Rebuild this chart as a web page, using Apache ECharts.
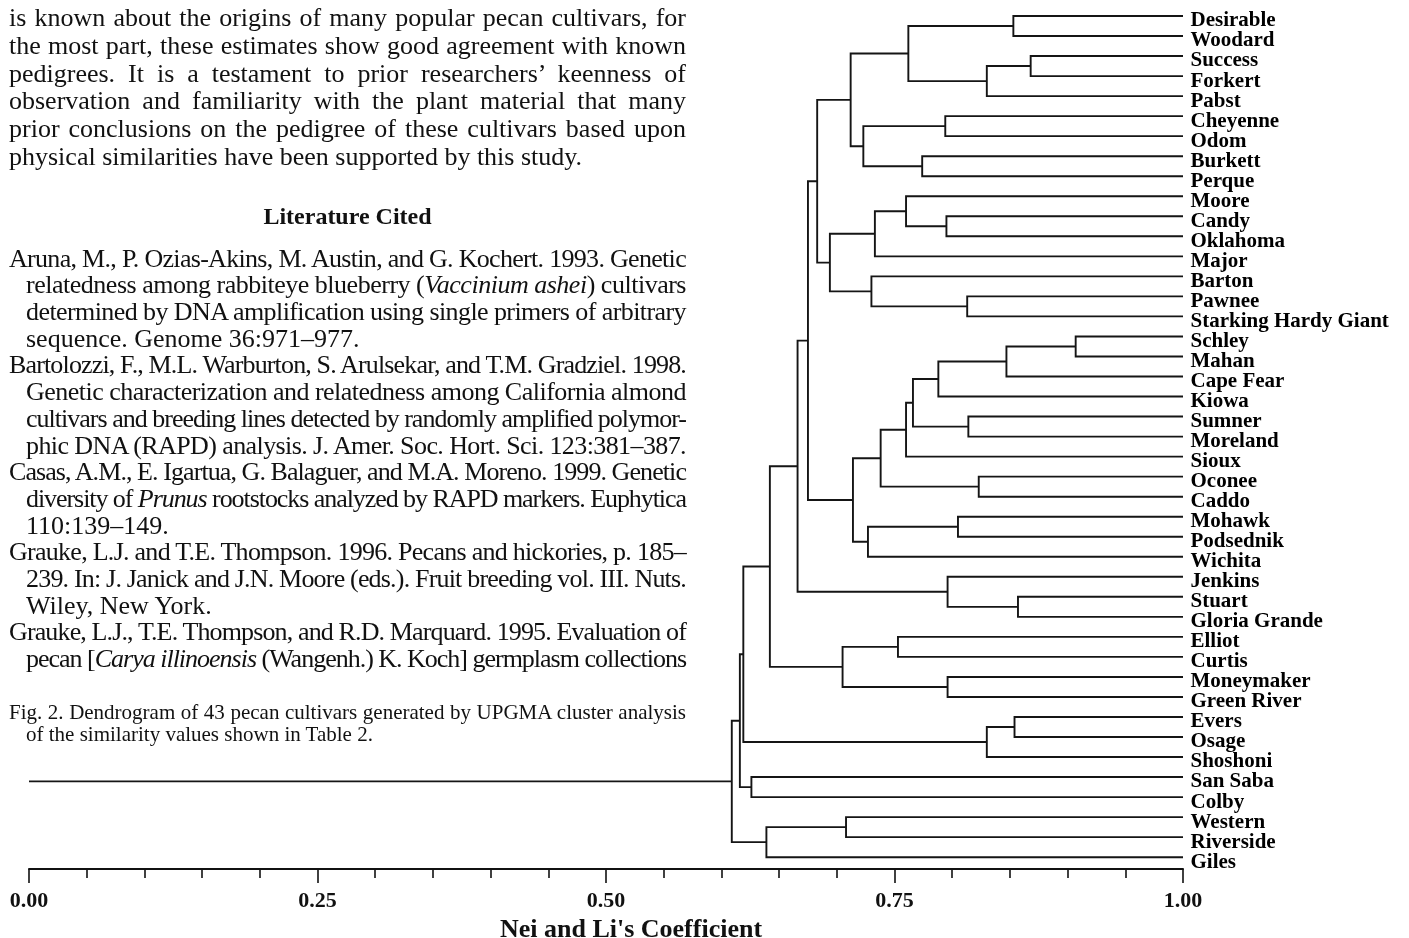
<!DOCTYPE html>
<html>
<head>
<meta charset="utf-8">
<script src="https://cdn.jsdelivr.net/npm/echarts@6/dist/echarts.min.js"></script>
<style>
  html, body { margin: 0; padding: 0; background: #fff; }
  #chart { position: absolute; left: 0; top: 0; width: 1409px; height: 938px; }
  #page { position: absolute; left: 0; top: 0; font-family: 'Liberation Serif', 'Times New Roman', serif; color: #111; }
  .ln { position: absolute; white-space: nowrap; }
</style>
</head>
<body>
<div id="chart"></div>
<div id="page"></div>
<script>
// cultivars, top to bottom
const leaves = [
  'Desirable', 'Woodard', 'Success', 'Forkert', 'Pabst', 'Cheyenne', 'Odom', 'Burkett', 'Perque',
  'Moore', 'Candy', 'Oklahoma', 'Major', 'Barton', 'Pawnee', 'Starking Hardy Giant',
  'Schley', 'Mahan', 'Cape Fear', 'Kiowa', 'Sumner', 'Moreland', 'Sioux', 'Oconee', 'Caddo',
  'Mohawk', 'Podsednik', 'Wichita', 'Jenkins', 'Stuart', 'Gloria Grande', 'Elliot', 'Curtis',
  'Moneymaker', 'Green River', 'Evers', 'Osage', 'Shoshoni', 'San Saba', 'Colby',
  'Western', 'Riverside', 'Giles'
];

// UPGMA joins: [child A, child B, coefficient]; '#k' = result of join k
const merges = [
  ['Desirable', 'Woodard', 0.853],
  ['Success', 'Forkert', 0.868],
  ['#1', 'Pabst', 0.830],
  ['#0', '#2', 0.762],
  ['Cheyenne', 'Odom', 0.794],
  ['Burkett', 'Perque', 0.774],
  ['#4', '#5', 0.723],
  ['#3', '#6', 0.712],
  ['Candy', 'Oklahoma', 0.795],
  ['Moore', '#8', 0.760],
  ['#9', 'Major', 0.733],
  ['Pawnee', 'Starking Hardy Giant', 0.813],
  ['Barton', '#11', 0.730],
  ['#10', '#12', 0.694],
  ['#7', '#13', 0.683],
  ['Schley', 'Mahan', 0.907],
  ['#15', 'Cape Fear', 0.847],
  ['#16', 'Kiowa', 0.788],
  ['Sumner', 'Moreland', 0.814],
  ['#17', '#18', 0.766],
  ['#19', 'Sioux', 0.760],
  ['Oconee', 'Caddo', 0.823],
  ['#20', '#21', 0.738],
  ['Mohawk', 'Podsednik', 0.805],
  ['#23', 'Wichita', 0.727],
  ['#22', '#24', 0.714],
  ['#14', '#25', 0.675],
  ['Stuart', 'Gloria Grande', 0.857],
  ['Jenkins', '#27', 0.796],
  ['#26', '#28', 0.666],
  ['Elliot', 'Curtis', 0.753],
  ['Moneymaker', 'Green River', 0.796],
  ['#30', '#31', 0.705],
  ['#29', '#32', 0.642],
  ['Evers', 'Osage', 0.854],
  ['#34', 'Shoshoni', 0.830],
  ['#33', '#35', 0.619],
  ['San Saba', 'Colby', 0.626],
  ['#36', '#37', 0.616],
  ['Western', 'Riverside', 0.708],
  ['#39', 'Giles', 0.639],
  ['#38', '#40', 0.609]
];

const xTicks = [0, 0.25, 0.5, 0.75, 1];

// page text around the figure
const bodyLines = [
  ['is known about the origins of many popular pecan cultivars, for', 0, true],
  ['the most part, these estimates show good agreement with known', 0, true],
  ['pedigrees. It is a testament to prior researchers’ keenness of', 0, true],
  ['observation and familiarity with the plant material that many', 0, true],
  ['prior conclusions on the pedigree of these cultivars based upon', 0, true],
  ['physical similarities have been supported by this study.', 0, false]
];
const refLines = [
  ['Aruna, M., P. Ozias-Akins, M. Austin, and G. Kochert. 1993. Genetic', 0, true],
  ['relatedness among rabbiteye blueberry (<i>Vaccinium ashei</i>) cultivars', 1, true],
  ['determined by DNA amplification using single primers of arbitrary', 1, true],
  ['sequence. Genome 36:971–977.', 1, false],
  ['Bartolozzi, F., M.L. Warburton, S. Arulsekar, and T.M. Gradziel. 1998.', 0, true],
  ['Genetic characterization and relatedness among California almond', 1, true],
  ['cultivars and breeding lines detected by randomly amplified polymor-', 1, true],
  ['phic DNA (RAPD) analysis. J. Amer. Soc. Hort. Sci. 123:381–387.', 1, true],
  ['Casas, A.M., E. Igartua, G. Balaguer, and M.A. Moreno. 1999. Genetic', 0, true],
  ['diversity of <i>Prunus</i> rootstocks analyzed by RAPD markers. Euphytica', 1, true],
  ['110:139–149.', 1, false],
  ['Grauke, L.J. and T.E. Thompson. 1996. Pecans and hickories, p. 185–', 0, true],
  ['239. In: J. Janick and J.N. Moore (eds.). Fruit breeding vol. III. Nuts.', 1, true],
  ['Wiley, New York.', 1, false],
  ['Grauke, L.J., T.E. Thompson, and R.D. Marquard. 1995. Evaluation of', 0, true],
  ['pecan [<i>Carya illinoensis</i> (Wangenh.) K. Koch] germplasm collections', 1, true]
];
const captionLines = [
  ['Fig. 2. Dendrogram of 43 pecan cultivars generated by UPGMA cluster analysis', 0, true],
  ['of the similarity values shown in Table 2.', 1, false]
];

// --- text column ---
const page = document.getElementById('page');
const LEFT = 9, RIGHT = 686, INDENT = 17;

function addLines(lines, firstCenter, step, size) {
  lines.forEach((l, i) => {
    const d = document.createElement('div');
    d.className = 'ln';
    d.innerHTML = l[0];
    d.style.fontSize = size + 'px';
    d.style.lineHeight = step + 'px';
    d.style.left = (LEFT + (l[1] ? INDENT : 0)) + 'px';
    d.style.top = (firstCenter + i * step - step / 2) + 'px';
    page.appendChild(d);
    if (l[2]) {
      const W = RIGHT - LEFT - (l[1] ? INDENT : 0);
      const w = d.getBoundingClientRect().width;
      const txt = d.textContent;
      const spaces = (txt.match(/ /g) || []).length;
      if (w < W && spaces) d.style.wordSpacing = ((W - w) / spaces) + 'px';
      else if (w > W) d.style.letterSpacing = ((W - w) / txt.length) + 'px';
    }
  });
}
addLines(bodyLines, 18, 27.7, 26);
addLines(refLines, 259, 26.7, 26);
addLines(captionLines, 712, 22, 21);

const head = document.createElement('div');
head.className = 'ln';
head.textContent = 'Literature Cited';
head.style.cssText += 'font-weight:bold;font-size:24px;line-height:30px;top:201px;left:' + LEFT + 'px;width:' + (RIGHT - LEFT) + 'px;text-align:center;';
page.appendChild(head);

// --- dendrogram layout ---
const pos = {};
leaves.forEach((n, i) => { pos[n] = { x: 1, y: i }; });
const segs = [];
merges.forEach((m, k) => {
  const a = pos[m[0]], b = pos[m[1]], v = m[2];
  segs.push({ coords: [[a.x, a.y], [v, a.y], [v, b.y], [b.x, b.y]] });
  pos['#' + k] = { x: v, y: (a.y + b.y) / 2 };
});
const root = pos['#' + (merges.length - 1)];
segs.push({ coords: [[0, root.y], [root.x, root.y]] });

const chart = echarts.init(document.getElementById('chart'));
const font = 'Liberation Serif';

chart.setOption({
  animation: false,
  grid: { left: 29, right: 226, top: 16, bottom: 69, containLabel: false, outerBoundsMode: 'none' },
  xAxis: {
    type: 'value',
    position: 'bottom',
    min: xTicks[0],
    max: xTicks[xTicks.length - 1],
    interval: xTicks[1] - xTicks[0],
    axisLine: { show: true, onZero: false, lineStyle: { color: '#111', width: 2 } },
    axisTick: { show: true, inside: false, length: 14, lineStyle: { color: '#111', width: 1.6 } },
    minorTick: { show: true, splitNumber: 5, length: 9, lineStyle: { color: '#111', width: 1.6 } },
    splitLine: { show: false },
    axisLabel: {
      margin: 21,
      formatter: (v) => v.toFixed(2),
      fontFamily: font, fontWeight: 'bold', fontSize: 22, color: '#111'
    },
    name: "Nei and Li's Coefficient",
    nameLocation: 'middle',
    nameGap: 39,
    nameTextStyle: { fontFamily: font, fontWeight: 'bold', fontSize: 26, color: '#111', padding: [0, 0, 0, 50] }
  },
  yAxis: { type: 'value', min: 0, max: 42.59, inverse: true, show: false },
  series: [
    {
      type: 'lines',
      coordinateSystem: 'cartesian2d',
      polyline: true,
      silent: true,
      lineStyle: { color: '#151515', width: 1.9, opacity: 1 },
      data: segs
    },
    {
      type: 'scatter',
      symbolSize: 1,
      itemStyle: { color: 'rgba(0,0,0,0)', opacity: 1 },
      silent: true,
      data: leaves.map((n, i) => [1, i, n]),
      label: {
        show: true,
        position: 'right',
        distance: 7,
        offset: [0, 5],
        formatter: (p) => p.data[2],
        fontFamily: font, fontWeight: 'bold', fontSize: 21, color: '#000', opacity: 1
      }
    }
  ]
});

window.addEventListener('resize', () => chart.resize());
</script>
</body>
</html>
